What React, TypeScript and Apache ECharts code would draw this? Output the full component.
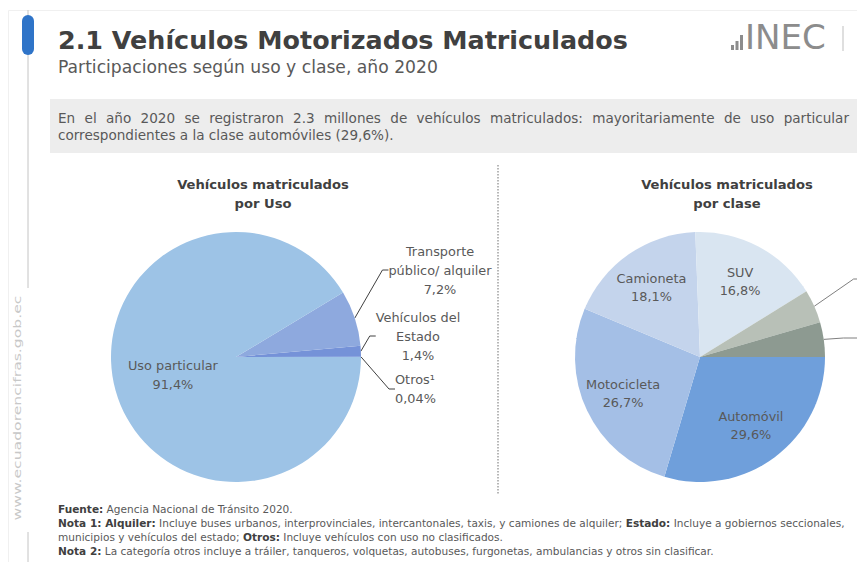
import React, { useEffect, useRef } from 'react';
import * as echarts from 'echarts';

// ---- Data ----
const usoCategories = ['Otros¹', 'Vehículos del Estado', 'Transporte público/ alquiler', 'Uso particular'];
const usoValues = [0.04, 1.4, 7.2, 91.4];

const claseCategories = ['Automóvil', 'Motocicleta', 'Camioneta', 'SUV', 'Camión', 'Otros'];
const claseValues = [29.6, 26.7, 18.1, 16.8, 4.3, 4.5];
const claseHiddenLabels = ['Camión', 'Otros'];

// ---- Texts ----
const mainTitle = '2.1 Vehículos Motorizados Matriculados';
const subTitle = 'Participaciones según uso y clase, año 2020';
const boxLine1 = 'En el año 2020 se registraron 2.3 millones de vehículos matriculados: mayoritariamente de uso particular';
const boxLine2 = 'correspondientes a la clase automóviles (29,6%).';
const pieTitleUso = 'Vehículos matriculados\npor Uso';
const pieTitleClase = 'Vehículos matriculados\npor clase';
const siteText = 'www.ecuadorencifras.gob.ec';
const noteLine2Plain =
  'Nota 1: Alquiler: Incluye buses urbanos, interprovinciales, intercantonales, taxis, y camiones de alquiler; Estado: Incluye a gobiernos seccionales,';
const noteLine4Plain =
  'Nota 2: La categoría otros incluye a tráiler, tanqueros, volquetas, autobuses, furgonetas, ambulancias y otros sin clasificar.';

// ---- Styles ----
const usoColors = ['#5B7FD0', '#7592D8', '#8EA9DE', '#9DC3E6'];
const claseColors = ['#6F9FDB', '#A4BFE6', '#C4D4EC', '#D9E5F1', '#B8C0B7', '#8D9A91'];
const FONT = '"DejaVu Sans", Verdana, sans-serif';
const TXT = '#595959';
const DARK = '#404040';

const ctx2d = (() => {
  const c = document.createElement('canvas');
  return c.getContext('2d') as CanvasRenderingContext2D;
})();
function measure(text: string, size: number, weight = 'normal') {
  ctx2d.font = `${weight} ${size}px ${FONT}`;
  return ctx2d.measureText(text).width;
}
function fit(text: string, width: number, weight = 'normal') {
  return (100 * width) / measure(text, 100, weight);
}
const fmt = (v: number) => v.toString().replace('.', ',') + '%';
const breakName = (n: string) =>
  n.replace('Transporte ', 'Transporte\n').replace('Vehículos del ', 'Vehículos del\n');

export default function App() {
  const ref = useRef<HTMLDivElement>(null);
  useEffect(() => {
    if (!ref.current) return;
    const chart = echarts.init(ref.current, null, { renderer: 'svg' });

    const titleSize = fit(mainTitle, 570, 'bold');
    const subSize = fit(subTitle, 380);
    const boxSize = fit(boxLine2, 336);
    const pieTitleSize = fit('Vehículos matriculados', 172, 'bold');
    const labelSize = fit('Uso particular', 90);
    const noteSize = Math.min(fit(noteLine4Plain, 664), fit(noteLine2Plain, 770, 'normal'));

    // justified first line of the grey box
    const words = boxLine1.split(' ');
    const ww = words.map((w) => measure(w, boxSize));
    const totalW = ww.reduce((a, b) => a + b, 0);
    const gap = (849 - 58 - totalW) / (words.length - 1);
    let cursor = 58;
    const wordEls = words.map((w, i) => {
      const el = {
        type: 'text',
        silent: true,
        x: cursor,
        y: 118,
        style: { text: w, fill: TXT, fontSize: boxSize, fontFamily: FONT, verticalAlign: 'middle', align: 'left' },
      };
      cursor += ww[i] + gap;
      return el;
    });

    const siteSize = 11;
    const siteScale = 225 / measure(siteText, siteSize);
    const inecSize = 33;
    const inecScale = 81 / measure('INEC', inecSize);

    const noteRich = {
      b: { fontWeight: 'bold', fill: DARK, fontSize: noteSize, fontFamily: FONT },
      n: { fontWeight: 'normal', fill: TXT, fontSize: noteSize, fontFamily: FONT },
    };
    const notes = [
      '{b|Fuente:}{n| Agencia Nacional de Tránsito 2020.}',
      '{b|Nota 1: Alquiler:}{n| Incluye buses urbanos, interprovinciales, intercantonales, taxis, y camiones de alquiler; }{b|Estado:}{n| Incluye a gobiernos seccionales,}',
      '{n|municipios y vehículos del estado; }{b|Otros:}{n| Incluye vehículos con uso no clasificados.}',
      '{b|Nota 2:}{n| La categoría otros incluye a tráiler, tanqueros, volquetas, autobuses, furgonetas, ambulancias y otros sin clasificar.}',
    ];
    const noteYs = [509, 523, 537, 551];

    const usoCenter = [236, 357];
    const claseCenter = [700, 357];
    const radius = 125;

    const usoLabelPos: Record<number, any> = {
      2: { x: 440, y: 270, align: 'center', verticalAlign: 'middle' },
      1: { x: 418, y: 336, align: 'center', verticalAlign: 'middle' },
      0: { x: 395, y: 389, align: 'left', verticalAlign: 'middle' },
    };

    const option: any = {
      animation: false,
      backgroundColor: '#ffffff',
      series: [
        {
          type: 'pie',
          silent: true,
          center: usoCenter,
          radius: radius,
          startAngle: 0,
          clockwise: false,
          color: usoColors,
          itemStyle: { borderWidth: 0 },
          label: {
            show: true,
            position: 'outside',
            color: TXT,
            fontFamily: FONT,
            fontSize: labelSize,
            lineHeight: 19,
            formatter: (p: any) => `${breakName(p.name)}\n${fmt(p.value)}`,
          },
          labelLine: { show: true, length: 12, length2: 6, lineStyle: { color: DARK, width: 1 } },
          labelLayout: (p: any) => usoLabelPos[p.dataIndex] || {},
          data: usoCategories.map((n, i) =>
            n === 'Uso particular'
              ? { name: n, value: usoValues[i], label: { position: 'inside' }, labelLine: { show: false } }
              : { name: n, value: usoValues[i] }
          ),
        },
        {
          type: 'pie',
          silent: true,
          center: claseCenter,
          radius: radius,
          startAngle: 0,
          clockwise: true,
          color: claseColors,
          itemStyle: { borderWidth: 0 },
          label: {
            show: true,
            position: 'inside',
            color: TXT,
            fontFamily: FONT,
            fontSize: labelSize,
            lineHeight: 18,
            formatter: (p: any) =>
              claseHiddenLabels.includes(p.name) ? ' ' : `${p.name}\n${fmt(p.value)}`,
          },
          labelLayout: (p: any) => {
            const r = p.labelRect;
            if (p.dataIndex === 4) return { x: 875, y: 279, align: 'left', verticalAlign: 'middle' };
            if (p.dataIndex === 5) return { x: 875, y: 338, align: 'left', verticalAlign: 'middle' };
            const cx = r.x + r.width / 2;
            const cy = r.y + r.height / 2;
            return {
              x: claseCenter[0] + 1.3 * (cx - claseCenter[0]),
              y: claseCenter[1] + 1.3 * (cy - claseCenter[1]),
              align: 'center',
              verticalAlign: 'middle',
            };
          },
          data: claseCategories.map((n, i) =>
            claseHiddenLabels.includes(n)
              ? {
                  name: n,
                  value: claseValues[i],
                  label: { position: 'outside' },
                  labelLine: { show: true, length: 10, length2: 20, lineStyle: { color: '#7F7F7F', width: 1 } },
                }
              : { name: n, value: claseValues[i] }
          ),
        },
      ],
      graphic: [
        // faint frame
        { type: 'rect', silent: true, shape: { x: 8.5, y: 10.5, width: 880, height: 600 }, style: { fill: 'none', stroke: '#F0F0F0', lineWidth: 1 } },
        // vertical rule
        { type: 'line', silent: true, shape: { x1: 28, y1: 10, x2: 28, y2: 288 }, style: { stroke: '#C4C4C4', lineWidth: 1 } },
        { type: 'line', silent: true, shape: { x1: 28, y1: 532, x2: 28, y2: 562 }, style: { stroke: '#C4C4C4', lineWidth: 1 } },
        // blue marker
        { type: 'rect', silent: true, shape: { x: 22, y: 15, width: 12, height: 40, r: 6 }, style: { fill: '#2F74C8' } },
        // title and subtitle
        { type: 'text', silent: true, x: 58, y: 40, style: { text: mainTitle, fill: DARK, fontSize: titleSize, fontWeight: 'bold', fontFamily: FONT, verticalAlign: 'middle' } },
        { type: 'text', silent: true, x: 58, y: 67, style: { text: subTitle, fill: TXT, fontSize: subSize, fontFamily: FONT, verticalAlign: 'middle' } },
        // INEC logo
        { type: 'rect', silent: true, shape: { x: 731, y: 45, width: 3, height: 5 }, style: { fill: '#8C8C8C' } },
        { type: 'rect', silent: true, shape: { x: 735.5, y: 41, width: 3, height: 9 }, style: { fill: '#8C8C8C' } },
        { type: 'rect', silent: true, shape: { x: 740, y: 35, width: 3, height: 15 }, style: { fill: '#8C8C8C' } },
        { type: 'text', silent: true, x: 745, y: 38, scaleX: inecScale, style: { text: 'INEC', fill: '#8C8C8C', fontSize: inecSize, fontFamily: FONT, verticalAlign: 'middle' } },
        { type: 'line', silent: true, shape: { x1: 843, y1: 26, x2: 843, y2: 51 }, style: { stroke: '#BFBFBF', lineWidth: 1 } },
        // grey summary box
        { type: 'rect', silent: true, shape: { x: 50, y: 99, width: 807, height: 54 }, style: { fill: '#EDEDED' } },
        ...wordEls,
        { type: 'text', silent: true, x: 58, y: 135, style: { text: boxLine2, fill: TXT, fontSize: boxSize, fontFamily: FONT, verticalAlign: 'middle' } },
        // pie titles
        { type: 'text', silent: true, x: 263, y: 194, style: { text: pieTitleUso, fill: DARK, fontSize: pieTitleSize, fontWeight: 'bold', fontFamily: FONT, align: 'center', verticalAlign: 'middle', lineHeight: 19 } },
        { type: 'text', silent: true, x: 727, y: 194, style: { text: pieTitleClase, fill: DARK, fontSize: pieTitleSize, fontWeight: 'bold', fontFamily: FONT, align: 'center', verticalAlign: 'middle', lineHeight: 19 } },
        // dotted divider
        { type: 'line', silent: true, shape: { x1: 498, y1: 165, x2: 498, y2: 495 }, style: { stroke: '#A0A0A0', lineWidth: 1.5, lineDash: [1.5, 1.5] } },
        // vertical site text
        { type: 'text', silent: true, x: 17, y: 408, rotation: Math.PI / 2, scaleX: siteScale, style: { text: siteText, fill: '#C8C8C8', fontSize: siteSize, fontFamily: FONT, align: 'center', verticalAlign: 'middle' } },
        // footnotes
        ...notes.map((t, i) => ({
          type: 'text',
          silent: true,
          x: 58,
          y: noteYs[i],
          style: { text: t, rich: noteRich, fontSize: noteSize, fontFamily: FONT, verticalAlign: 'middle' },
        })),
      ],
    };

    chart.setOption(option);
    return () => chart.dispose();
  }, []);

  return (
    <div
      ref={ref}
      style={{ position: 'absolute', left: 0, top: 0, width: 857, height: 562, background: '#fff' }}
    />
  );
}
